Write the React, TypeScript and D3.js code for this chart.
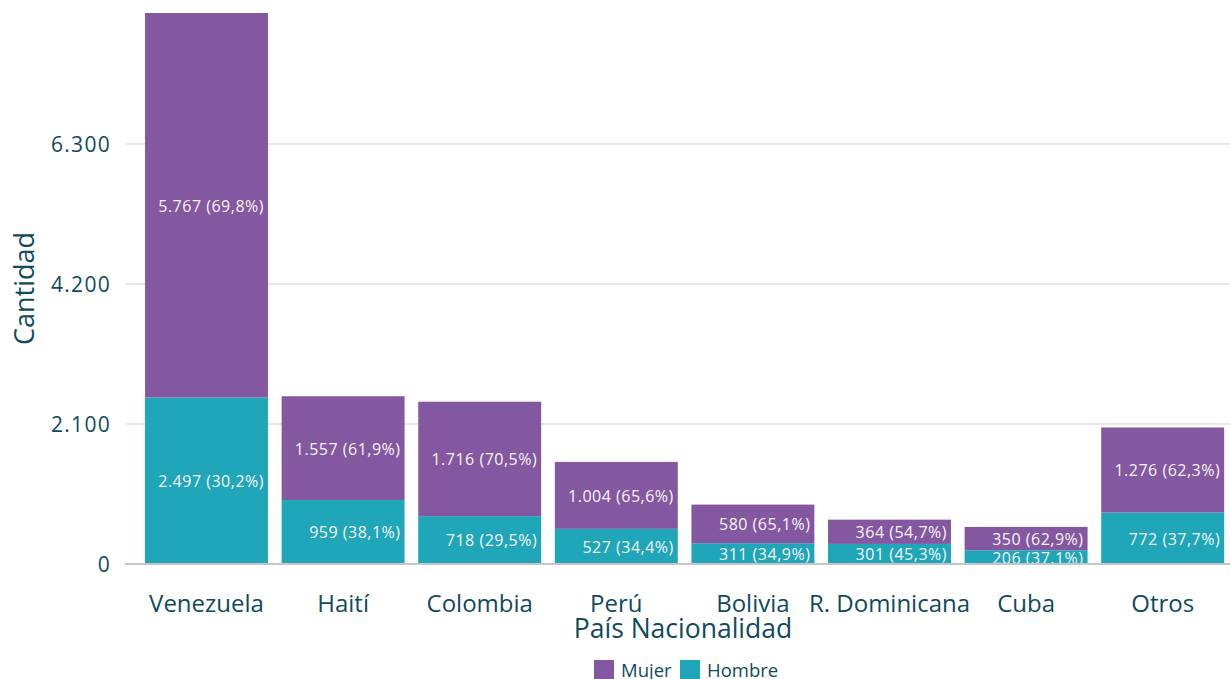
import React from "react";
import * as d3 from "d3";

const categories = ["Venezuela", "Haití", "Colombia", "Perú", "Bolivia", "R. Dominicana", "Cuba", "Otros"];
const hombre = [2497, 959, 718, 527, 311, 301, 206, 772];
const mujer = [5767, 1557, 1716, 1004, 580, 364, 350, 1276];
const hombrePct = ["30,2%", "38,1%", "29,5%", "34,4%", "34,9%", "45,3%", "37,1%", "37,7%"];
const mujerPct = ["69,8%", "61,9%", "70,5%", "65,6%", "65,1%", "54,7%", "62,9%", "62,3%"];
const yTicks = [0, 2100, 4200, 6300];

const W = 1230;
const H = 679;
const FONT = "'Open Sans', 'Noto Sans', sans-serif";
const TEXT = "#0f4b5c";
const PURPLE = "#8458a0";
const TEAL = "#1fa6b9";

const fmt = (v: number) => d3.format(",")(v).replace(/,/g, ".");

export default function App() {
  const x = d3.scaleBand<string>().domain(categories).range([138.2, 1231]).paddingInner(0.1).paddingOuter(0.05);
  const maxTotal = d3.max(categories.map((_, i) => hombre[i] + mujer[i])) as number;
  const y = d3.scaleLinear().domain([0, maxTotal]).range([564, 13]);

  return (
    <svg width={W} height={H} style={{ position: "absolute", left: 0, top: 0, background: "#fff" }} fontFamily={FONT}>
      {yTicks.filter((t) => t > 0).map((t) => (
        <line key={t} x1={125} x2={1230} y1={y(t)} y2={y(t)} stroke="#cfcfcf" strokeWidth={1} />
      ))}
      {yTicks.map((t) => (
        <text key={"l" + t} x={111} y={y(t)} dy="0.36em" textAnchor="end" fontSize={21} letterSpacing={1.3} fill={TEXT}>
          {fmt(t)}
        </text>
      ))}
      {categories.map((c, i) => {
        const x0 = x(c) as number;
        const bw = x.bandwidth();
        const yH0 = y(0);
        const yH1 = y(hombre[i]);
        const yM1 = y(hombre[i] + mujer[i]);
        return (
          <g key={c}>
            <rect x={x0} y={yH1} width={bw} height={yH0 - yH1} fill={TEAL} />
            <rect x={x0} y={yM1} width={bw} height={yH1 - yM1} fill={PURPLE} />
            <text x={x0 + bw - 4} y={(yH1 + yM1) / 2} dy="0.4em" textAnchor="end" fontSize={16} letterSpacing={0.5} fill="#f4f4f4">
              {fmt(mujer[i])} ({mujerPct[i]})
            </text>
            <text x={x0 + bw - 4} y={(yH0 + yH1) / 2} dy="0.4em" textAnchor="end" fontSize={16} letterSpacing={0.5} fill="#f4f4f4">
              {fmt(hombre[i])} ({hombrePct[i]})
            </text>
            <text x={x0 + bw / 2} y={612} textAnchor="middle" fontSize={24} fill={TEXT}>
              {c}
            </text>
          </g>
        );
      })}
      <line x1={125} x2={1230} y1={y(0)} y2={y(0)} stroke="#c6c6c6" strokeWidth={2} />
      <text x={683} y={638} textAnchor="middle" fontSize={26.5} fill={TEXT}>
        País Nacionalidad
      </text>
      <text transform={`translate(34,288.5) rotate(-90)`} textAnchor="middle" fontSize={27} fill={TEXT}>
        Cantidad
      </text>
      <rect x={594} y={660} width={20} height={20} fill={PURPLE} />
      <text x={621} y={677} fontSize={18.5} fill={TEXT}>Mujer</text>
      <rect x={680} y={660} width={20} height={20} fill={TEAL} />
      <text x={707} y={677} fontSize={18.5} fill={TEXT}>Hombre</text>
    </svg>
  );
}
